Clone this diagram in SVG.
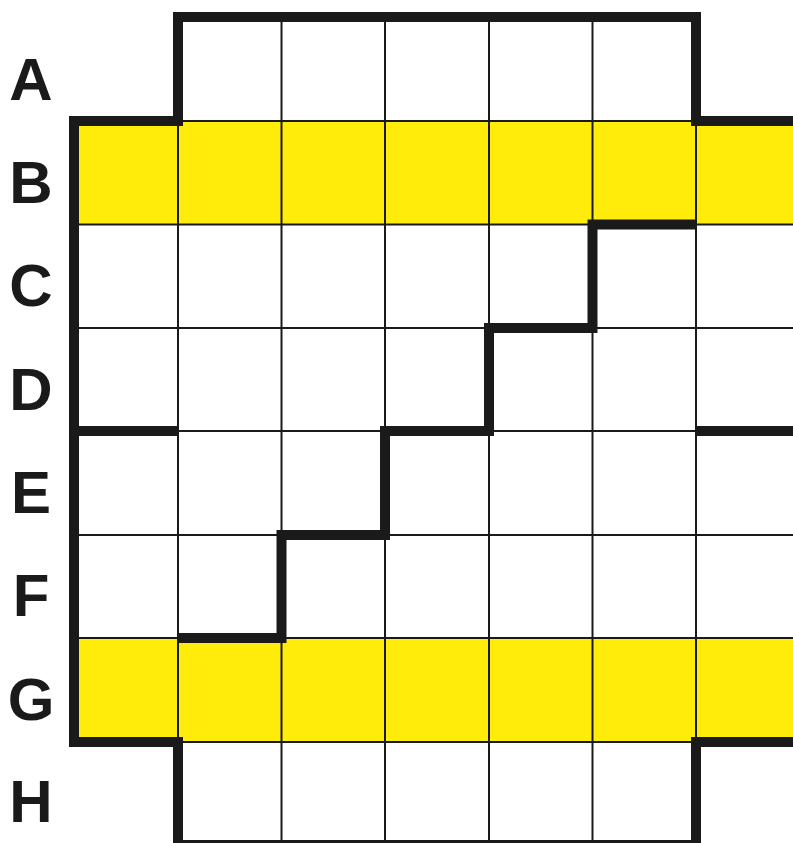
<svg xmlns="http://www.w3.org/2000/svg" width="793" height="843" viewBox="0 0 793 843">
<style>
.lbl{font-family:"Liberation Sans",Arial,sans-serif;font-weight:bold;font-size:60px;fill:#1a1a1a;text-anchor:middle}
.thin{stroke:#1a1a1a;stroke-width:2;fill:none}
.thick{stroke:#1a1a1a;stroke-width:10;fill:none;stroke-linecap:butt;stroke-linejoin:miter}
.yel{fill:#ffec0a}
</style>
<rect width="793" height="843" fill="#ffffff"/>
<g id="yellow">
<rect class="yel" x="74" y="121" width="719" height="103.5"/>
<rect class="yel" x="74" y="638" width="719" height="104"/>
</g>
<g id="grid">
<path class="thin" d="M178,17V843M281.5,17V843M385,17V843M489,17V843M592.5,17V843M696,121V742"/>
<path class="thin" d="M74,121H793M74,224.5H793M74,328H793M74,431H793M74,535H793M74,638H793M74,742H793"/>
<path class="thin" d="M178,841.5H696" style="stroke-width:3"/>
</g>
<g id="borders">
<path class="thick" d="M793,121H696V17H178V121H74V742H178V843"/>
<path class="thick" d="M696,843V742H793"/>
<path class="thick" d="M74,431H178"/>
<path class="thick" d="M696,431H793"/>
<path class="thick" d="M178,638H281.5V535H385V431H489V328H592.5V224.5H696"/>
</g>
<g id="labels">
<text class="lbl" x="31" y="100">A</text>
<text class="lbl" x="31" y="203">B</text>
<text class="lbl" x="31" y="306">C</text>
<text class="lbl" x="31" y="410">D</text>
<text class="lbl" x="31" y="513">E</text>
<text class="lbl" x="31" y="616">F</text>
<text class="lbl" x="31" y="720">G</text>
<text class="lbl" x="31" y="822">H</text>
</g>
</svg>
